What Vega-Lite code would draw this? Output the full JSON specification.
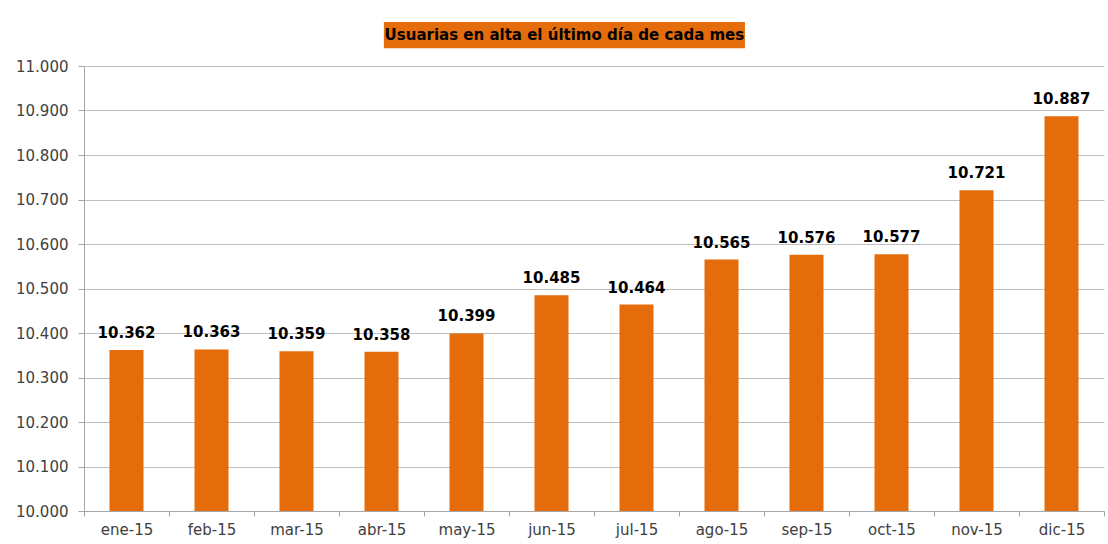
{
  "$schema": "https://vega.github.io/schema/vega-lite/v6.json",
  "width": 1020,
  "height": 445,
  "autosize": {"type": "none"},
  "padding": {"left": 84, "top": 66, "right": 4, "bottom": 33},
  "background": "white",
  "config": {
    "locale": {"number": {"decimal": ",", "thousands": ".", "grouping": [3], "currency": ["", " €"]}},
    "view": {"stroke": null},
    "font": "DejaVu Sans"
  },
  "datasets": {
    "bars": [
      {"mes": "ene-15", "usuarias": 10362},
      {"mes": "feb-15", "usuarias": 10363},
      {"mes": "mar-15", "usuarias": 10359},
      {"mes": "abr-15", "usuarias": 10358},
      {"mes": "may-15", "usuarias": 10399},
      {"mes": "jun-15", "usuarias": 10485},
      {"mes": "jul-15", "usuarias": 10464},
      {"mes": "ago-15", "usuarias": 10565},
      {"mes": "sep-15", "usuarias": 10576},
      {"mes": "oct-15", "usuarias": 10577},
      {"mes": "nov-15", "usuarias": 10721},
      {"mes": "dic-15", "usuarias": 10887}
    ],
    "titulo": [
      {"texto": "Usuarias en alta el último día de cada mes", "x0": 0.294, "x1": 0.648, "xc": 0.471, "y0": 11040, "y1": 11099, "yc": 11070}
    ]
  },
  "layer": [
    {
      "data": {"name": "bars"},
      "layer": [
        {
          "mark": {"type": "bar", "color": "#E46C0A", "width": {"band": 0.4}},
          "encoding": {
            "x": {
              "field": "mes", "type": "nominal", "sort": null,
              "scale": {"paddingInner": 0, "paddingOuter": 0},
              "axis": {
                "title": null, "labelAngle": 0, "labelFont": "DejaVu Sans", "labelFontSize": 15,
                "labelColor": "#404040", "labelPadding": 6, "tickBand": "extent",
                "tickColor": "#A6A6A6", "tickSize": 5, "domainColor": "#A6A6A6", "grid": false
              }
            },
            "y": {
              "field": "usuarias", "type": "quantitative",
              "scale": {"domain": [10000, 11000], "zero": false, "nice": false},
              "axis": {
                "title": null, "format": ",d", "values": [10000, 10100, 10200, 10300, 10400, 10500, 10600, 10700, 10800, 10900, 11000],
                "labelFont": "DejaVu Sans", "labelFontSize": 15, "labelColor": "#404040", "labelPadding": 10,
                "tickColor": "#A6A6A6", "tickSize": 6, "domainColor": "#A6A6A6",
                "gridColor": "#BFBFBF", "gridWidth": 1
              }
            },
            "y2": {"datum": 10000}
          }
        },
        {
          "mark": {"type": "text", "dy": -17, "fontWeight": "bold", "fontSize": 15, "color": "#000000", "font": "DejaVu Sans"},
          "encoding": {
            "x": {"field": "mes", "type": "nominal", "sort": null},
            "y": {"field": "usuarias", "type": "quantitative"},
            "text": {"field": "usuarias", "type": "quantitative", "format": ",d"}
          }
        }
      ]
    },
    {
      "data": {"name": "titulo"},
      "layer": [
        {
          "mark": {"type": "rect", "color": "#E46C0A", "clip": false},
          "encoding": {
            "x": {"field": "x0", "type": "quantitative", "scale": {"domain": [0, 1], "nice": false, "zero": false}, "axis": null},
            "x2": {"field": "x1"},
            "y": {"field": "y0", "type": "quantitative"},
            "y2": {"field": "y1"}
          }
        },
        {
          "mark": {"type": "text", "fontWeight": "bold", "fontSize": 15, "color": "#000000", "font": "DejaVu Sans", "clip": false},
          "encoding": {
            "x": {"field": "xc", "type": "quantitative", "axis": null},
            "y": {"field": "yc", "type": "quantitative"},
            "text": {"field": "texto", "type": "nominal"}
          }
        }
      ]
    }
  ],
  "resolve": {"scale": {"x": "independent"}, "axis": {"x": "independent"}}
}
